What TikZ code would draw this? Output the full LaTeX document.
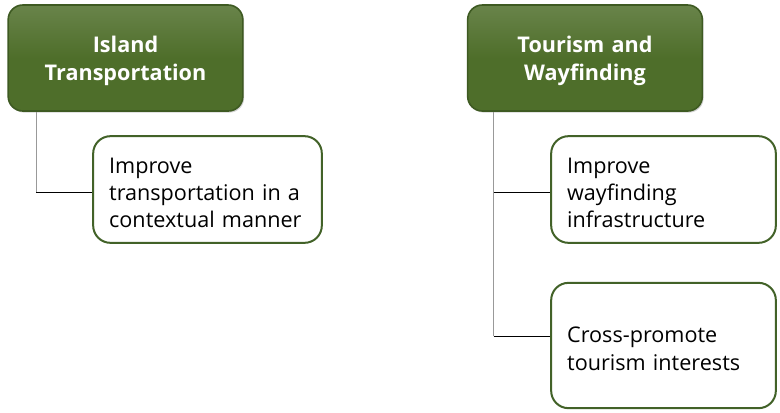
\documentclass[tikz,border=0pt]{standalone}
\usepackage{xcolor}
\usepackage{fontspec}
\setmainfont{Open Sans}
\usepackage{tikz}
\usetikzlibrary{shadows}

\definecolor{headgreen}{RGB}{78,110,42}
\definecolor{headedge}{RGB}{62,90,34}
\definecolor{boxedge}{RGB}{66,98,40}

\begin{document}
\begin{tikzpicture}[x=0.75pt,y=0.75pt,yscale=-1,
  headbox/.style={draw=headedge, line width=1.2pt, rounded corners=11pt,
    top color=headgreen!85!white, bottom color=headgreen, middle color=headgreen,
    drop shadow={shadow xshift=1pt, shadow yshift=-1.2pt, opacity=0.35},
    minimum width=176pt, minimum height=79.5pt, text width=160pt, align=center, text=white,
    execute at begin node={\rule{0pt}{17pt}},
    font=\fontsize{16.2}{21}\selectfont\bfseries},
  itembox/.style={draw=boxedge, line width=1.5pt, rounded corners=13pt, fill=white,
    minimum height=80pt, inner xsep=12pt, align=left,
    execute at begin node={\rule{0pt}{16.8pt}},
    font=\fontsize{16.2}{20.5}\selectfont},
  trunk/.style={draw=black!40, line width=0.7pt},
  link/.style={draw=black, line width=0.6pt}]
\useasboundingbox (0,0) rectangle (780,412);

%Shape: header boxes
\node [headbox] (island) at (125.5,58) {Island\\Transportation};
\node [headbox] (tourism) at (585,58) {Tourism and\\Wayfinding};

%Shape: item boxes
\node [itembox, text width=147.5pt] (transport) at (207.5,189.5) {Improve\\transportation in a\\contextual manner};
\node [itembox, text width=144.5pt] (wayfind) at (663.5,189.5) {Improve\\wayfinding\\infrastructure};
\node [itembox, text width=144.5pt, minimum height=94pt] (promote) at (663.5,345.5) {Cross-promote\\tourism interests};

%Straight Lines
\coordinate (islandfoot) at ([xshift=21.5pt]island.south west);
\coordinate (tourismfoot) at ([xshift=20pt]tourism.south west);
\coordinate (transportin) at ([yshift=1.9pt]transport.west);
\coordinate (wayfindin) at ([yshift=1.9pt]wayfind.west);
\coordinate (promotein) at ([yshift=-7pt]promote.west);
\draw [trunk] (islandfoot) -- (islandfoot |- transportin);
\draw [link] (islandfoot |- transportin) -- (transportin);
\draw [trunk] (tourismfoot) -- (tourismfoot |- promotein);
\draw [link] (tourismfoot |- wayfindin) -- (wayfindin);
\draw [link] (tourismfoot |- promotein) -- (promotein);
\end{tikzpicture}
\end{document}
